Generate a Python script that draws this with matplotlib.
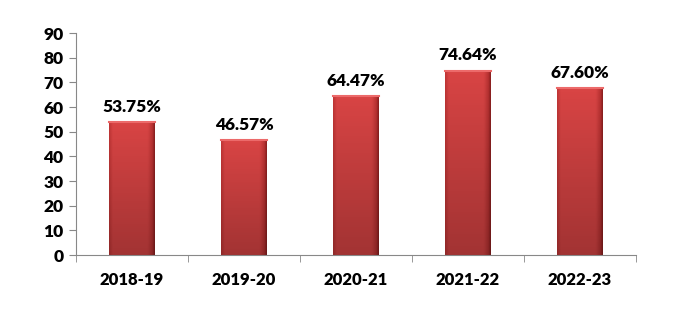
import numpy as np
import matplotlib.pyplot as plt
from matplotlib.colors import LinearSegmentedColormap

categories = ['2018-19', '2019-20', '2020-21', '2021-22', '2022-23']
values = [53.75, 46.57, 64.47, 74.64, 67.60]
labels = ['53.75%', '46.57%', '64.47%', '74.64%', '67.60%']

plt.rcParams['font.family'] = ['Lato', 'DejaVu Sans']
plt.rcParams['font.weight'] = 'heavy'

fig = plt.figure(figsize=(6.89, 3.23), dpi=100)
ax = fig.add_axes([76 / 689, 1 - 255 / 323, (636 - 76) / 689, (255 - 33) / 323])

x = np.arange(len(categories))
w = 0.41
bars = ax.bar(x, values, width=w, color='#d04040', zorder=2)

# 渐变填充，模仿原图的立体效果
cmap = LinearSegmentedColormap.from_list(
    'red', [(0, '#c03636'), (0.08, '#d94545'), (0.85, '#d84444'), (0.95, '#b83232'), (1, '#8c2020')])
grad = np.linspace(0, 1, 64).reshape(1, -1)
for b in bars:
    bx, by = b.get_x(), b.get_y()
    bw, bh = b.get_width(), b.get_height()
    img = ax.imshow(grad, cmap=cmap, aspect='auto', origin='lower',
                    extent=[bx, bx + bw, by, by + bh], zorder=2)
    img.set_clip_path(b)
    vshade = np.linspace(0.25, 0, 64).reshape(-1, 1)
    ax.imshow(np.dstack([np.zeros((64, 1))] * 3 + [vshade]), aspect='auto', origin='lower',
              extent=[bx, bx + bw, by, by + bh], zorder=3).set_clip_path(b)
    ax.plot([bx, bx + bw], [by + bh, by + bh], color='#ec6a6a', lw=1.5, zorder=4)

for xi, v, s in zip(x, values, labels):
    ax.text(xi, v + 3, s, ha='center', va='bottom', fontsize=12.5, fontweight='heavy')

ax.set_xlim(-0.5, len(categories) - 0.5)
ax.set_ylim(0, 90)
ax.set_yticks(range(0, 91, 10))
ax.set_xticks(x)
ax.set_xticklabels(categories, fontsize=12, fontweight='heavy')
ax.set_xticks(np.arange(-0.5, len(categories)), minor=True)
ax.tick_params(axis='x', which='major', length=0, pad=12)
ax.tick_params(axis='x', which='minor', length=5, color='#888888', direction='out')
ax.tick_params(axis='y', length=5, color='#888888', labelsize=12.5, pad=4)
for t in ax.get_yticklabels():
    t.set_fontweight('heavy')

ax.spines['top'].set_visible(False)
ax.spines['right'].set_visible(False)
ax.spines['left'].set_color('#888888')
ax.spines['bottom'].set_color('#888888')

fig.savefig('out.png', dpi=100)
